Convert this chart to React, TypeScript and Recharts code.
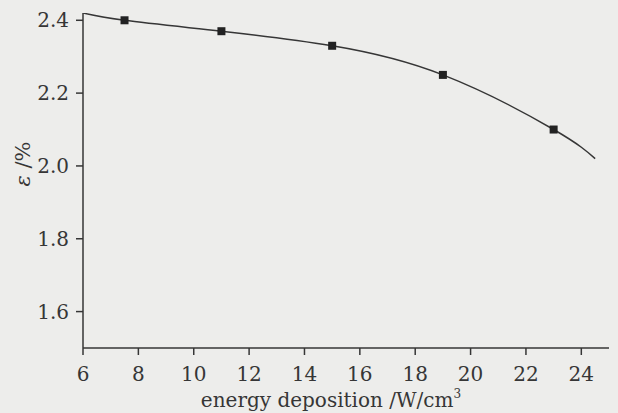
import { ComposedChart, Line, Scatter, XAxis, YAxis } from 'recharts'

const curveX = [6, 7.5, 11, 15, 19, 23, 24.5]
const curveY = [2.42, 2.4, 2.37, 2.33, 2.25, 2.1, 2.02]

const markerX = [7.5, 11, 15, 19, 23]
const markerY = [2.4, 2.37, 2.33, 2.25, 2.1]

const xMajor = [6, 8, 10, 12, 14, 16, 18, 20, 22, 24]
const xMinor = [7, 9, 11, 13, 15, 17, 19, 21, 23]
const yMajor = [1.6, 1.8, 2.0, 2.2, 2.4]
const yMinor = [1.7, 1.9, 2.1, 2.3]

const curve = curveX.map((x, i) => ({ x, y: curveY[i] }))
const markers = markerX.map((x, i) => ({ x, y: markerY[i] }))

const ink = '#363636'
const font = 'DejaVu Serif'

const XTick = (props: any) => (
  <text x={props.x} y={Number(props.y) + 26} textAnchor="middle" fill={ink} fontSize={20} fontFamily={font}>
    {props.payload.value}
  </text>
)

const YTick = (props: any) => (
  <text x={Number(props.x) - 7} y={Number(props.y) + 7} textAnchor="end" fill={ink} fontSize={20} fontFamily={font}>
    {Number(props.payload.value).toFixed(1)}
  </text>
)

const NoTick = () => <g />

const Square = (props: any) => {
  const { cx, cy } = props
  return <rect x={cx - 4} y={cy - 4} width={8} height={8} fill="#222" />
}

export default function App() {
  return (
    <div style={{ position: 'absolute', left: 0, top: 0, width: 618, height: 413, background: '#ededeb' }}>
      <ComposedChart width={618} height={413} margin={{ top: 13, right: 9, left: 0, bottom: 0 }}>
        <XAxis
          xAxisId="minor"
          type="number"
          dataKey="x"
          domain={[6, 25]}
          ticks={xMinor}
          interval={0}
          height={0}
          tickSize={4}
          tickLine={{ stroke: ink, strokeWidth: 1.5 }}
          axisLine={false}
          tick={<NoTick />}
          allowDataOverflow
        />
        <XAxis
          xAxisId="main"
          type="number"
          dataKey="x"
          domain={[6, 25]}
          ticks={xMajor}
          interval={0}
          height={65}
          tickSize={7}
          tickMargin={0}
          tickLine={{ stroke: ink, strokeWidth: 1.5 }}
          axisLine={{ stroke: ink, strokeWidth: 1.5 }}
          tick={<XTick />}
          allowDataOverflow
        />
        <YAxis
          yAxisId="minor"
          type="number"
          dataKey="y"
          domain={[1.5, 2.42]}
          ticks={yMinor}
          interval={0}
          width={0}
          tickSize={4}
          tickLine={{ stroke: ink, strokeWidth: 1.5 }}
          axisLine={false}
          tick={<NoTick />}
          allowDataOverflow
        />
        <YAxis
          yAxisId="main"
          type="number"
          dataKey="y"
          domain={[1.5, 2.42]}
          ticks={yMajor}
          interval={0}
          width={83}
          tickSize={7}
          tickMargin={0}
          tickLine={{ stroke: ink, strokeWidth: 1.5 }}
          axisLine={{ stroke: ink, strokeWidth: 1.5 }}
          tick={<YTick />}
          allowDataOverflow
        />
        <Line
          xAxisId="main"
          yAxisId="main"
          data={curve}
          dataKey="y"
          type="natural"
          stroke={ink}
          strokeWidth={1.5}
          dot={false}
          activeDot={false}
          isAnimationActive={false}
        />
        <Scatter
          xAxisId="main"
          yAxisId="main"
          data={markers}
          dataKey="y"
          shape={<Square />}
          isAnimationActive={false}
        />
      </ComposedChart>
      <svg width={618} height={413} style={{ position: 'absolute', left: 0, top: 0, pointerEvents: 'none' }}>
        <text
          x={0}
          y={0}
          transform="translate(30 164) rotate(-90)"
          textAnchor="middle"
          fill={ink}
          fontSize={21}
          fontFamily={font}
        >
          <tspan fontStyle="italic">ε</tspan>
          <tspan> /%</tspan>
        </text>
        <text x={331} y={407} textAnchor="middle" fill={ink} fontSize={20} fontFamily={font}>
          energy deposition /W/cm
          <tspan fontSize={12} dy={-9}>3</tspan>
        </text>
      </svg>
    </div>
  )
}
